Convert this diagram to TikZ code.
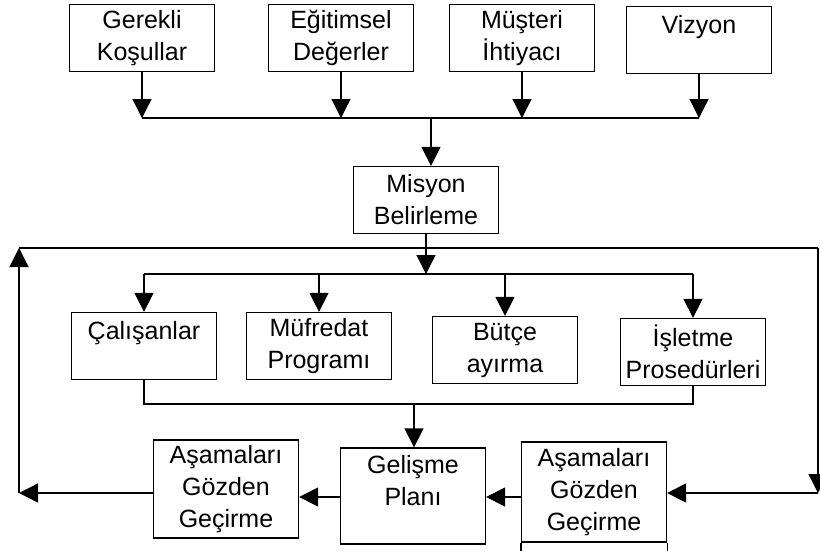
\documentclass[tikz,border=0pt]{standalone}
\usepackage{fontspec}
\setmainfont{Liberation Sans}
\usetikzlibrary{arrows.meta}

\begin{document}
\begin{tikzpicture}[x=1pt, y=-1pt,
		kutu/.style={draw, align=center, minimum width=145pt, minimum height=67pt, line width = 1.3pt, font=\fontsize{25}{32}\selectfont},
		ok/.style={-{Triangle[length=19pt, width=19pt]}, line width = 1.3pt},
		hat/.style={line width = 1.3pt}
	]

	\useasboundingbox (0,0) rectangle (820,550);

	\node[kutu] (gerekli) at (142,38) {Gerekli\\Koşullar};
	\node[kutu] (egitimsel) at (341,38) {Eğitimsel\\Değerler};
	\node[kutu] (musteri) at (522,38) {Müşteri\\İhtiyacı};
	\node[kutu] (vizyon) at (699,40) {Vizyon\\~};

	\node[kutu] (misyon) at (426,200) {Misyon\\Belirleme};

	\node[kutu] (calisanlar) at (144,346) {Çalışanlar\\~};
	\node[kutu] (mufredat) at (319,346) {Müfredat\\Programı};
	\node[kutu] (butce) at (505,350) {Bütçe\\ayırma};
	\node[kutu] (isletme) at (693,352) {İşletme\\Prosedürleri};

	\node[kutu, minimum height=98pt] (asamasol) at (226,489) {Aşamaları\\Gözden\\Geçirme};
	\node[kutu, minimum height=96pt] (gelisme) at (413,496) {Gelişme\\Planı\\~};
	\node[kutu, minimum height=100pt] (asamasag) at (594,492) {Aşamaları\\Gözden\\Geçirme};
	\draw[hat] (asamasag.south west) -- ++(0,10);
	\draw[hat] (asamasag.south east) -- ++(0,10);

	\coordinate (ust) at (431,118);
	\coordinate (dongu) at (19,248);
	\coordinate (sagust) at (818,248);
	\coordinate (dagit) at (426,274);
	\coordinate (topla) at (414,404);
	\coordinate (sagalt) at (818,493);
	\coordinate (solalt) at (19,493);
	\coordinate (alt) at (0,497);

	\draw[ok] (gerekli.south) -- (gerekli.south |- ust);
	\draw[ok] (egitimsel.south) -- (egitimsel.south |- ust);
	\draw[ok] (musteri.south) -- (musteri.south |- ust);
	\draw[ok] (vizyon.south) -- (vizyon.south |- ust);
	\draw[hat] (gerekli.south |- ust) -- (vizyon.south |- ust);
	\draw[ok] (ust) -- (ust |- misyon.north);

	\draw[hat] (dongu) -- (sagust);
	\draw[ok] (misyon.south) -- (dagit);
	\draw[hat] (calisanlar.north |- dagit) -- (isletme.north |- dagit);
	\draw[ok] (calisanlar.north |- dagit) -- (calisanlar.north);
	\draw[ok] (mufredat.north |- dagit) -- (mufredat.north);
	\draw[ok] (butce.north |- dagit) -- (butce.north);
	\draw[ok] (isletme.north |- dagit) -- (isletme.north);

	\draw[hat] (calisanlar.south) -- (calisanlar.south |- topla) -- (isletme.south |- topla) -- (isletme.south);
	\draw[ok] (topla) -- (topla |- gelisme.north);

	\draw[ok] (sagust) -- (sagalt);
	\draw[ok] (sagalt) -- (asamasag.east |- sagalt);
	\draw[ok] (asamasag.west |- alt) -- (gelisme.east |- alt);
	\draw[ok] (gelisme.west |- alt) -- (asamasol.east |- alt);
	\draw[ok] (asamasol.west |- solalt) -- (solalt);
	\draw[ok] (solalt) -- (dongu);

\end{tikzpicture}
\end{document}
